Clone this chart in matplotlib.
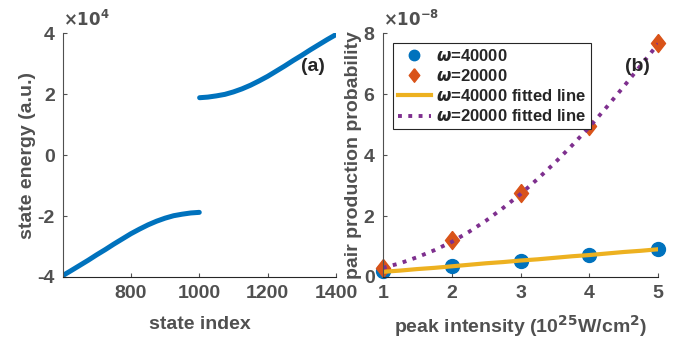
import matplotlib
matplotlib.use("Agg")
import matplotlib.pyplot as plt
from matplotlib.ticker import FuncFormatter

plt.rcParams['font.family'] = ['Liberation Sans', 'DejaVu Sans']
plt.rcParams['font.weight'] = 'bold'
plt.rcParams['mathtext.fontset'] = 'dejavusans'

# ---- panel (a): state energies ----
lower_index = [601, 625, 650, 675, 700, 725, 750, 775, 800,
               825, 850, 875, 900, 925, 950, 975, 1000]
lower_energy = [-39500, -37900, -36200, -34500, -32700, -31000, -29200, -27500, -25800,
                -24300, -22900, -21700, -20700, -19900, -19400, -19000, -18800]
upper_index = [1001, 1025, 1050, 1075, 1100, 1125, 1150, 1175, 1200,
               1225, 1250, 1275, 1300, 1325, 1350, 1375, 1400]
upper_energy = [18800, 19000, 19400, 19900, 20700, 21700, 22900, 24300, 25800,
                27500, 29200, 31000, 32700, 34500, 36200, 37900, 39500]

# ---- panel (b): pair production ----
intensity = [1, 2, 3, 4, 5]
prob_w40000 = [0.21e-8, 0.37e-8, 0.53e-8, 0.73e-8, 0.92e-8]
prob_w20000 = [0.30e-8, 1.21e-8, 2.74e-8, 4.95e-8, 7.68e-8]
fit_x = [1, 1.25, 1.5, 1.75, 2, 2.25, 2.5, 2.75, 3, 3.25, 3.5, 3.75, 4, 4.25, 4.5, 4.75, 5]
fit_w40000 = [0.17e-8, 0.21e-8, 0.26e-8, 0.30e-8, 0.35e-8, 0.40e-8, 0.45e-8, 0.49e-8, 0.54e-8,
              0.58e-8, 0.63e-8, 0.68e-8, 0.72e-8, 0.77e-8, 0.82e-8, 0.86e-8, 0.91e-8]
fit_w20000 = [0.30e-8, 0.45e-8, 0.65e-8, 0.88e-8, 1.15e-8, 1.48e-8, 1.85e-8, 2.27e-8, 2.72e-8,
              3.22e-8, 3.75e-8, 4.32e-8, 4.92e-8, 5.57e-8, 6.25e-8, 6.95e-8, 7.65e-8]

BLUE = "#0072BD"
ORANGE = "#D95319"
YELLOW = "#EDB120"
PURPLE = "#7E2F8E"
GRAY = "#505050"
DARK = "#262626"

diamond = [(0, 1), (0.78, 0), (0, -1), (-0.78, 0), (0, 1)]

fig = plt.figure(figsize=(6.8, 3.41), dpi=100)
ax1 = fig.add_axes([0.0926, 0.1877, 0.4014, 0.7153])
ax2 = fig.add_axes([0.563, 0.1877, 0.405, 0.7153])


def style(ax):
    for s in ("top", "right"):
        ax.spines[s].set_visible(False)
    ax.spines["left"].set_color(GRAY)
    ax.spines["bottom"].set_color(DARK)
    ax.tick_params(direction="in", colors=GRAY, labelsize=14, length=3, pad=6)
    ax.xaxis.label.set_color(GRAY)
    ax.yaxis.label.set_color(GRAY)


# --- (a) ---
ax1.plot(lower_index, lower_energy, color=BLUE, lw=3.6, solid_capstyle="round")
ax1.plot(upper_index, upper_energy, color=BLUE, lw=3.6, solid_capstyle="round")
ax1.set_xlim(601, 1400)
ax1.set_ylim(-40000, 40000)
ax1.set_xticks([800, 1000, 1200, 1400])
ax1.set_yticks([-40000, -20000, 0, 20000, 40000])
ax1.yaxis.set_major_formatter(FuncFormatter(lambda v, p: f"{v / 1e4:g}"))
ax1.set_xlabel("state index", fontsize=14, fontweight="bold", labelpad=10)
ax1.set_ylabel("state energy (a.u.)", fontsize=14, fontweight="bold", labelpad=1)
style(ax1)
ax1.text(0.0, 1.015, r"$\times 10^{4}$", transform=ax1.transAxes, fontsize=12,
         color=GRAY, ha="left", va="bottom")
ax1.text(0.916, 0.865, "(a)", transform=ax1.transAxes, fontsize=14,
         fontweight="bold", color=DARK, ha="center", va="center")

# --- (b) ---
ax2.plot(intensity, prob_w40000, "o", color=BLUE, ms=10, clip_on=False,
         label=r"$\omega$=40000")
ax2.plot(intensity, prob_w20000, marker=diamond, ls="none", color=ORANGE, ms=13,
         clip_on=False, label=r"$\omega$=20000")
ax2.plot(fit_x, fit_w40000, "-", color=YELLOW, lw=3, label=r"$\omega$=40000 fitted line")
ax2.plot(fit_x, fit_w20000, ":", color=PURPLE, lw=2.8, label=r"$\omega$=20000 fitted line")
ax2.set_xlim(1, 5)
ax2.set_ylim(0, 8e-8)
ax2.set_xticks([1, 2, 3, 4, 5])
ax2.set_yticks([0, 2e-8, 4e-8, 6e-8, 8e-8])
ax2.yaxis.set_major_formatter(FuncFormatter(lambda v, p: f"{v / 1e-8:g}"))
ax2.set_xlabel(r"peak intensity (10$^{\mathbf{25}}$W/cm$^{\mathbf{2}}$)", fontsize=14,
               fontweight="bold", labelpad=8)
ax2.set_ylabel("pair production probability", fontsize=14, fontweight="bold", labelpad=1)
style(ax2)
ax2.text(0.0, 1.015, r"$\times 10^{-8}$", transform=ax2.transAxes, fontsize=12,
         color=GRAY, ha="left", va="bottom")
ax2.text(0.924, 0.865, "(b)", transform=ax2.transAxes, fontsize=14,
         fontweight="bold", color=DARK, ha="center", va="center")

handles, labels = ax2.get_legend_handles_labels()
leg = ax2.legend(handles, labels, loc="upper left", bbox_to_anchor=(0.036, 0.96),
                 borderaxespad=0, fontsize=12, fancybox=False, framealpha=1,
                 edgecolor=DARK, handlelength=2.0, handletextpad=0.3,
                 borderpad=0.3, labelspacing=0.25, markerscale=0.75)
leg.get_frame().set_linewidth(0.8)
for txt in leg.get_texts():
    txt.set_color(DARK)
    txt.set_fontweight("bold")

fig.savefig("out.png", dpi=100)
